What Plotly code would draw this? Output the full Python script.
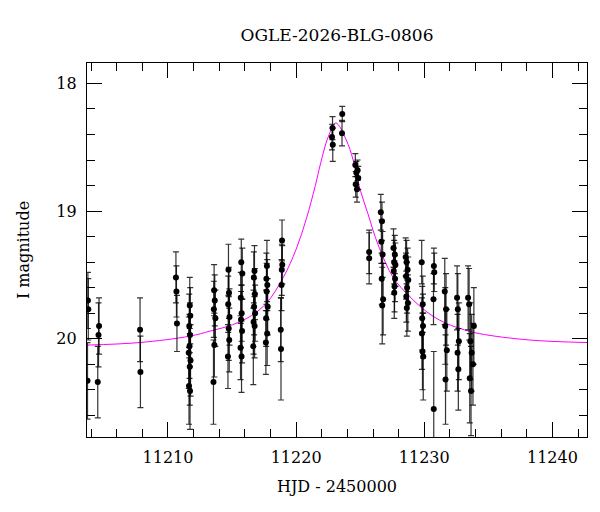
import plotly.graph_objects as go

# Observations: HJD-2450000, I magnitude, error
obs_t = [
    11203.75, 11203.78, 11203.72,
    11204.62, 11204.58, 11204.52,
    11207.82, 11207.85,
    11210.62, 11210.66, 11210.70,
    11211.70, 11211.74, 11211.66, 11211.72, 11211.68, 11211.62, 11211.76, 11211.70, 11211.64, 11211.72,
    11213.60, 11213.65, 11213.58, 11213.70, 11213.62, 11213.55,
    11214.72, 11214.76, 11214.70, 11214.80, 11214.74, 11214.78, 11214.68,
    11215.72, 11215.80, 11215.68, 11215.75, 11215.70, 11215.78, 11215.66, 11215.74,
    11216.75, 11216.70, 11216.78, 11216.72, 11216.80, 11216.68, 11216.76, 11216.66,
    11217.72, 11217.68, 11217.75, 11217.70, 11217.78, 11217.66, 11217.74, 11217.64,
    11218.90, 11218.92, 11218.88, 11218.86, 11218.80, 11218.82,
    11222.84, 11222.80, 11222.86, 11223.60, 11223.58,
    11224.62, 11224.80, 11224.70, 11224.85, 11224.65, 11224.75,
    11225.70, 11225.70,
    11226.61, 11226.70, 11226.65, 11226.75, 11226.68, 11226.79, 11226.72,
    11227.60, 11227.70, 11227.65, 11227.75, 11227.62, 11227.72, 11227.68, 11227.66,
    11228.55, 11228.62, 11228.70, 11228.58, 11228.75, 11228.66, 11228.60, 11228.72, 11228.64,
    11229.80, 11229.88, 11229.84, 11229.90, 11229.82, 11229.86, 11229.92,
    11230.75, 11230.78, 11230.72, 11230.74,
    11231.60, 11231.70, 11231.64, 11231.76, 11231.66,
    11232.56, 11232.62, 11232.70, 11232.60, 11232.66,
    11233.42, 11233.50, 11233.87, 11233.60, 11233.70, 11233.80, 11233.55, 11233.65,
]
obs_mag = [
    19.70, 19.77, 20.33,
    19.90, 19.97, 20.34,
    19.93, 20.26,
    19.52, 19.63, 19.88,
    19.74, 19.82, 19.90, 19.97, 20.06, 20.11, 20.17, 20.22, 20.37, 20.41,
    19.62, 19.70, 19.77, 19.84, 20.05, 20.34,
    19.46, 19.64, 19.73, 19.83, 19.92, 20.01, 20.14,
    19.40, 19.49, 19.68, 19.80, 19.85, 19.94, 20.07, 20.14,
    19.47, 19.52, 19.65, 19.75, 19.80, 19.87, 19.90, 20.06,
    19.43, 19.53, 19.58, 19.63, 19.75, 19.84, 19.96, 20.03,
    19.23, 19.42, 19.46, 19.58, 19.93, 20.08,
    18.35, 18.42, 18.48, 18.24, 18.39,
    18.64, 18.68, 18.70, 18.74, 18.79, 18.83,
    19.32, 19.37,
    19.01, 19.08, 19.24, 19.34, 19.53, 19.69, 19.74,
    19.29, 19.34, 19.40, 19.42, 19.47, 19.53, 19.59, 19.64,
    19.36, 19.40, 19.46, 19.51, 19.54, 19.60, 19.67, 19.72, 19.76,
    19.40, 19.73, 19.84, 19.90, 19.96, 20.10, 20.14,
    19.43, 19.48, 19.69, 20.55,
    19.63, 19.77, 19.90, 20.09, 20.32,
    19.68, 19.77, 20.02, 20.11, 20.24,
    19.68, 19.73, 19.90, 20.02, 20.11, 20.20, 20.31, 20.41,
]
obs_err = [
    0.22, 0.24, 0.30,
    0.22, 0.25, 0.28,
    0.25, 0.28,
    0.20, 0.20, 0.22,
    0.22, 0.22, 0.25, 0.25, 0.25, 0.28, 0.28, 0.30, 0.30, 0.30,
    0.20, 0.20, 0.22, 0.22, 0.25, 0.33,
    0.20, 0.20, 0.22, 0.22, 0.25, 0.25, 0.25,
    0.18, 0.20, 0.20, 0.22, 0.22, 0.25, 0.25, 0.28,
    0.20, 0.20, 0.20, 0.22, 0.22, 0.25, 0.25, 0.30,
    0.20, 0.20, 0.20, 0.22, 0.22, 0.22, 0.25, 0.25,
    0.16, 0.15, 0.20, 0.20, 0.25, 0.40,
    0.09, 0.10, 0.13, 0.06, 0.10,
    0.09, 0.08, 0.09, 0.09, 0.10, 0.10,
    0.17, 0.20,
    0.14, 0.15, 0.17, 0.18, 0.20, 0.28, 0.30,
    0.15, 0.15, 0.17, 0.17, 0.18, 0.18, 0.20, 0.20,
    0.15, 0.17, 0.17, 0.18, 0.18, 0.20, 0.20, 0.22, 0.22,
    0.17, 0.22, 0.25, 0.25, 0.28, 0.30, 0.34,
    0.14, 0.15, 0.20, 0.45,
    0.26, 0.28, 0.30, 0.32, 0.35,
    0.25, 0.28, 0.30, 0.30, 0.32,
    0.25, 0.28, 0.30, 0.30, 0.30, 0.32, 0.35, 0.35,
]

# Model light curve
model_t = [11203.68, 11207.8, 11211.7, 11213.3, 11215.05, 11216.5, 11217.7, 11219.0, 11220.0,
           11220.8, 11221.5, 11221.9, 11222.5, 11223.1, 11223.9, 11224.45, 11224.96, 11225.6,
           11226.1, 11226.5, 11227.57, 11228.87, 11230.2, 11231.5, 11232.8, 11234.3, 11238.2, 11242.7]
model_mag = [20.05, 20.03, 19.98, 19.94, 19.89, 19.82, 19.72, 19.52, 19.30,
             19.06, 18.80, 18.63, 18.42, 18.31, 18.44, 18.60, 18.82, 19.02,
             19.18, 19.29, 19.52, 19.67, 19.79, 19.87, 19.92, 19.96, 20.01, 20.03]

x_range = [11203.68, 11242.7]
y_range = [20.77, 17.84]
x_ticks = [11210, 11220, 11230, 11240]
y_ticks = [18, 19, 20]

FONT = "DejaVu Serif"

fig = go.Figure()
fig.add_trace(go.Scatter(
    x=model_t, y=model_mag, mode="lines",
    line=dict(color="#ff00ff", width=1, shape="spline", smoothing=1.0),
    hoverinfo="skip", showlegend=False,
))
fig.add_trace(go.Scatter(
    x=obs_t, y=obs_mag, mode="markers",
    marker=dict(color="black", size=6),
    error_y=dict(type="data", array=obs_err, visible=True, color="rgba(0,0,0,0.8)",
                 thickness=1.2, width=3),
    showlegend=False,
))

axis_common = dict(
    showline=True, linecolor="black", linewidth=1.3, mirror="allticks",
    ticks="inside", ticklen=15, tickwidth=1, tickcolor="black",
    showgrid=False, zeroline=False,
    tickfont=dict(family=FONT, size=16, color="black"),
)
fig.update_xaxes(
    range=x_range, tickvals=x_ticks, ticktext=[str(v) for v in x_ticks],
    minor=dict(ticks="inside", ticklen=8, dtick=2, tick0=11210, tickcolor="black", showgrid=False),
    title=dict(text="HJD - 2450000", font=dict(family=FONT, size=16, color="black"), standoff=14),
    ticklabelstandoff=6,
    **axis_common,
)
fig.update_yaxes(
    range=y_range, tickvals=y_ticks, ticktext=[str(v) for v in y_ticks],
    minor=dict(ticks="inside", ticklen=8, dtick=0.2, tick0=18, tickcolor="black", showgrid=False),
    title=dict(text="I magnitude", font=dict(family=FONT, size=16, color="black"), standoff=22),
    ticklabelstandoff=6,
    **axis_common,
)
fig.update_layout(
    width=600, height=512,
    margin=dict(l=87, r=13, t=63, b=75),
    plot_bgcolor="white", paper_bgcolor="white",
    title=dict(text="OGLE-2026-BLG-0806", x=(87 + 587) / 2 / 600, xanchor="center",
               y=1 - 35 / 512, yanchor="middle", yref="container",
               font=dict(family=FONT, size=17, color="black")),
)
fig.write_html("out.html")
